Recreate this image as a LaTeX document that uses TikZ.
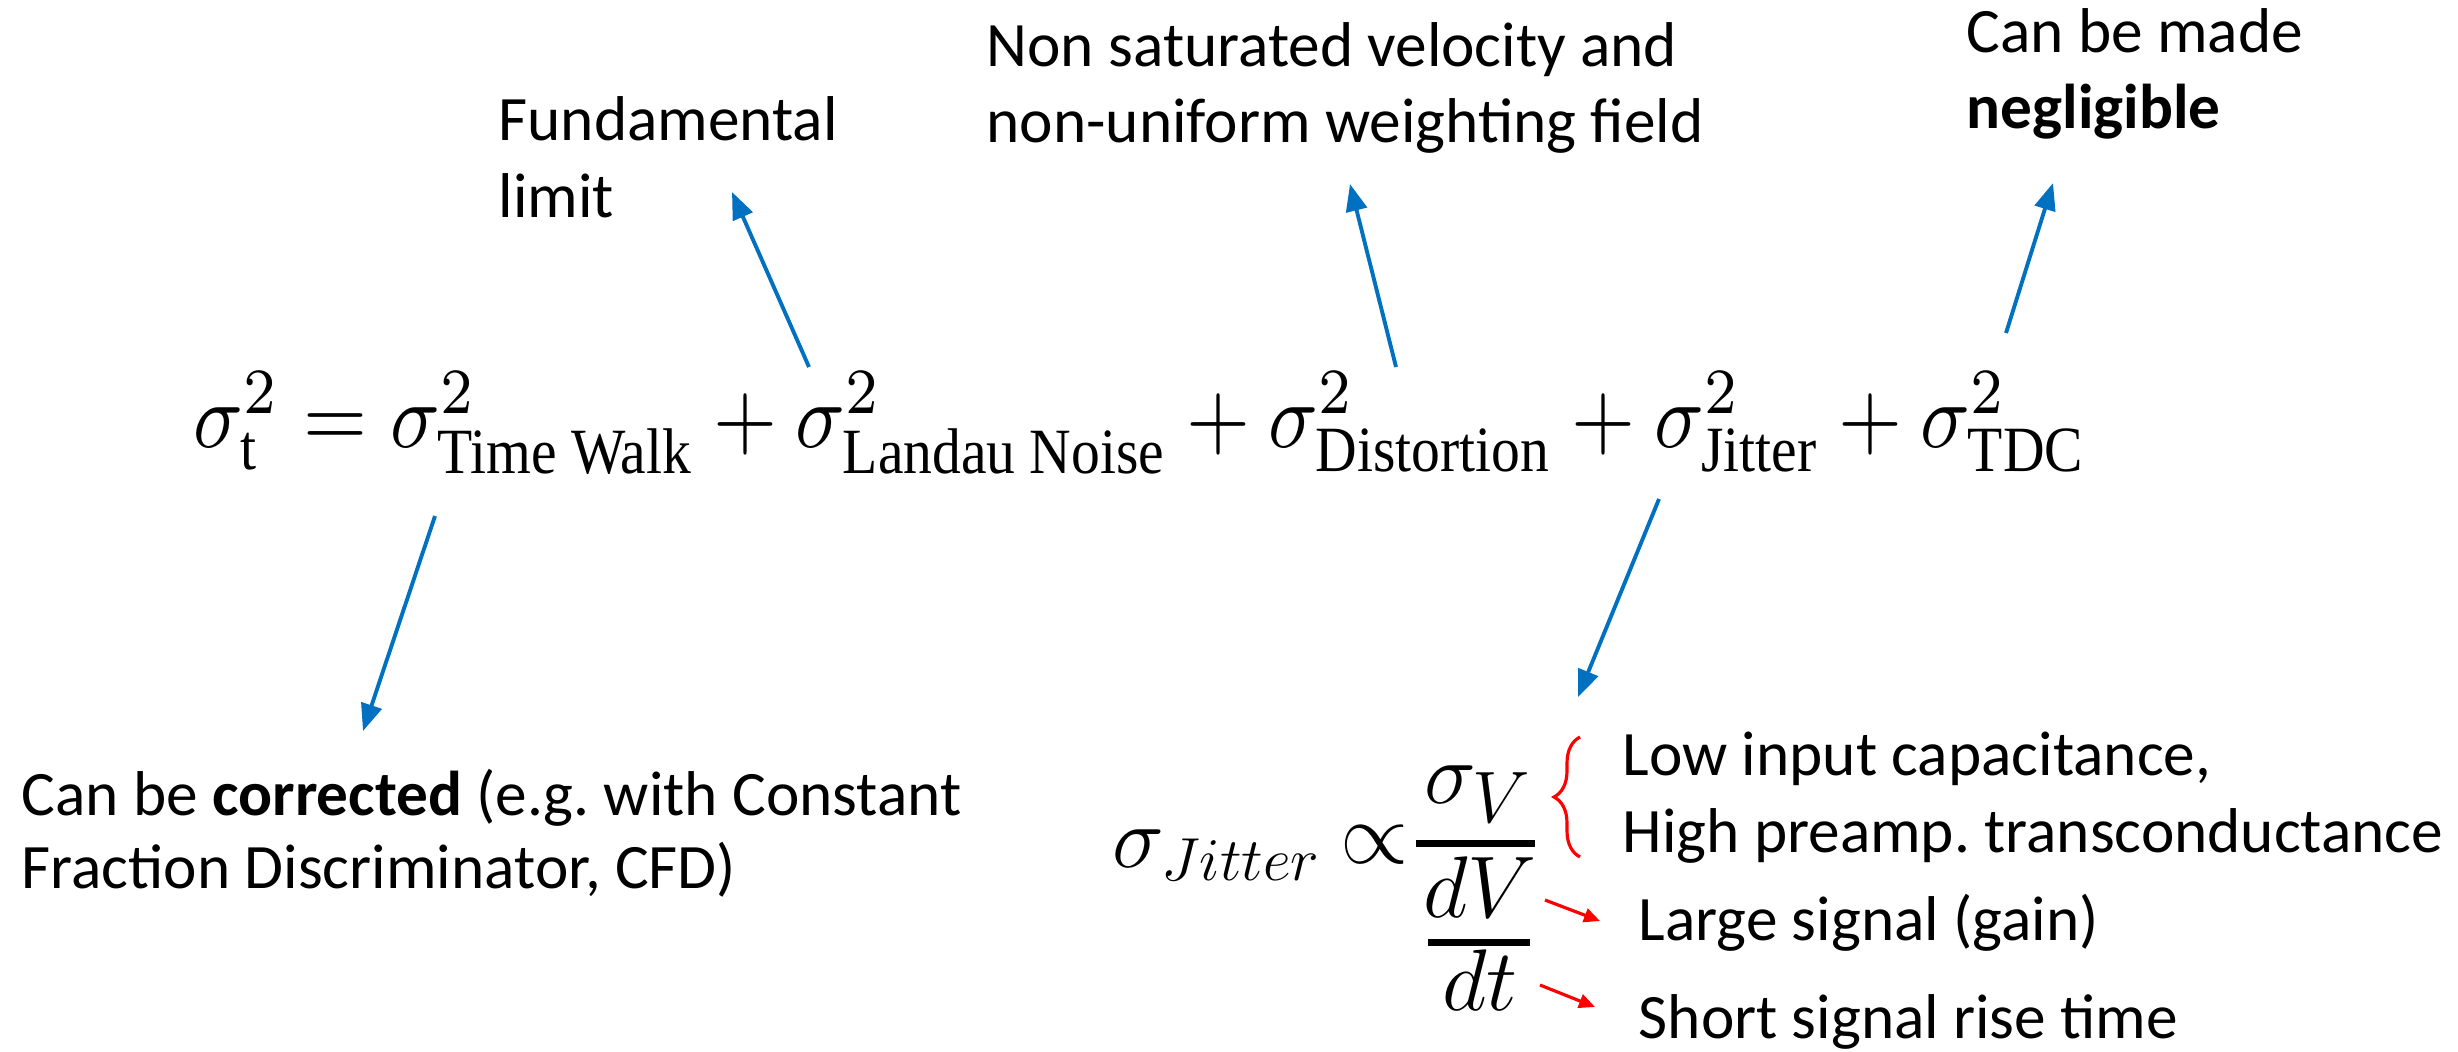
\documentclass[tikz,border=0pt]{standalone}
\usepackage{amsmath}
\usepackage{fontspec}
\setmainfont{Carlito}
\newfontfamily\timesf{Liberation Serif}
\usetikzlibrary{arrows.meta,decorations.pathreplacing}
\definecolor{obl}{HTML}{0070C0}
\definecolor{ored}{HTML}{FF0000}
\newcommand{\tsub}[1]{\text{\timesf #1}}
\frenchspacing
\begin{document}
\begin{tikzpicture}[x={(0.01cm,0)}, y={(0,-0.01cm)},
  lbl/.style={font=\fontsize{18}{22}\selectfont, inner sep=0pt, anchor=base west},
  mth/.style={font=\fontsize{24}{28}\selectfont, inner sep=0pt},
  barrow/.style={draw=obl, line width=1.1pt, -{Triangle[length=0.27cm,width=0.21cm]}},
  rarrow/.style={draw=ored, line width=0.9pt, -{Triangle[length=0.16cm,width=0.14cm]}},
  fbar/.style={line width=2pt},
  rbrace/.style={draw=ored, line width=0.9pt, decorate, decoration={brace, amplitude=0.26cm}}]
\useasboundingbox[fill=white] (0,0) rectangle (2458,1051);

% main equation
\node[inner sep=0pt, anchor=base west] (eq) at (193,447)
  {\resizebox{18.92cm}{0.75cm}{$\sigma_{\tsub{t}}^2 = \sigma^2_{\tsub{Time Walk}} + \sigma^2_{\tsub{Landau Noise}} + \sigma^2_{\tsub{Distortion}} + \sigma^2_{\tsub{Jitter}} + \sigma^2_{\tsub{TDC}}$}};

% labels
\node[lbl] (fund1) at (498,140) {Fundamental};
\node[lbl] (fund2) at (498,217) {limit};
\node[lbl] (dist1) at (986,66) {Non saturated velocity and};
\node[lbl] (dist2) at (986,142) {non-uniform weighting field};
\node[lbl] (tdc1) at (1966,52) {Can be made};
\node[lbl] (tdc2) at (1966,128) {\textbf{negligible}};
\node[lbl] (tw1) at (21,815) {Can be \textbf{corrected} (e.g. with Constant};
\node[lbl] (tw2) at (21,888) {Fraction Discriminator, CFD)};
\node[lbl] (j1) at (1622,775) {Low input capacitance,};
\node[lbl] (j2) at (1622,852) {High preamp. transconductance};
\node[lbl] (j3) at (1638,940) {Large signal (gain)};
\node[lbl] (j4) at (1638,1038) {Short signal rise time};

% jitter formula
\node[mth, anchor=base west] (sj) at (1112,867) {$\sigma_{Jitter}$};
\node[mth, anchor=base] (prop) at (1375,863) {\fontsize{28}{30}\selectfont$\propto$};
\node[mth, anchor=base] (sv) at (1478,803) {$\sigma_{\text{\fontsize{20}{24}\selectfont$V$}}$};
\node[mth, anchor=base] (dv) at (1480,917) {$dV$};
\node[mth, anchor=base] (dt) at (1480,1010) {$dt$};
\coordinate (b1l) at (1416,843); \coordinate (b1r) at (1535,843);
\coordinate (b2l) at (1428,942); \coordinate (b2r) at (1530,942);
\draw[fbar] (b1l) -- (b1r);
\draw[fbar] (b2l) -- (b2r);

% brace and red arrows
\coordinate (brb) at (1580,857); \coordinate (brt) at (1580,737);
\draw[rbrace] (brb) -- (brt);
\coordinate (r1s) at (1545,900); \coordinate (r1e) at (1600,921);
\coordinate (r2s) at (1540,985); \coordinate (r2e) at (1595,1007);
\draw[rarrow] (r1s) -- (r1e);
\draw[rarrow] (r2s) -- (r2e);

% blue arrows
\coordinate (twS) at (435,516); \coordinate (twE) at (363,731);
\coordinate (lnS) at (809,367); \coordinate (lnE) at (732,192);
\coordinate (dsS) at (1396,367); \coordinate (dsE) at (1350,184);
\coordinate (tdS) at (2006,333); \coordinate (tdE) at (2053,183);
\coordinate (jtS) at (1659,499); \coordinate (jtE) at (1578,697);
\draw[barrow] (twS) -- (twE);
\draw[barrow] (lnS) -- (lnE);
\draw[barrow] (dsS) -- (dsE);
\draw[barrow] (tdS) -- (tdE);
\draw[barrow] (jtS) -- (jtE);
\end{tikzpicture}
\end{document}
